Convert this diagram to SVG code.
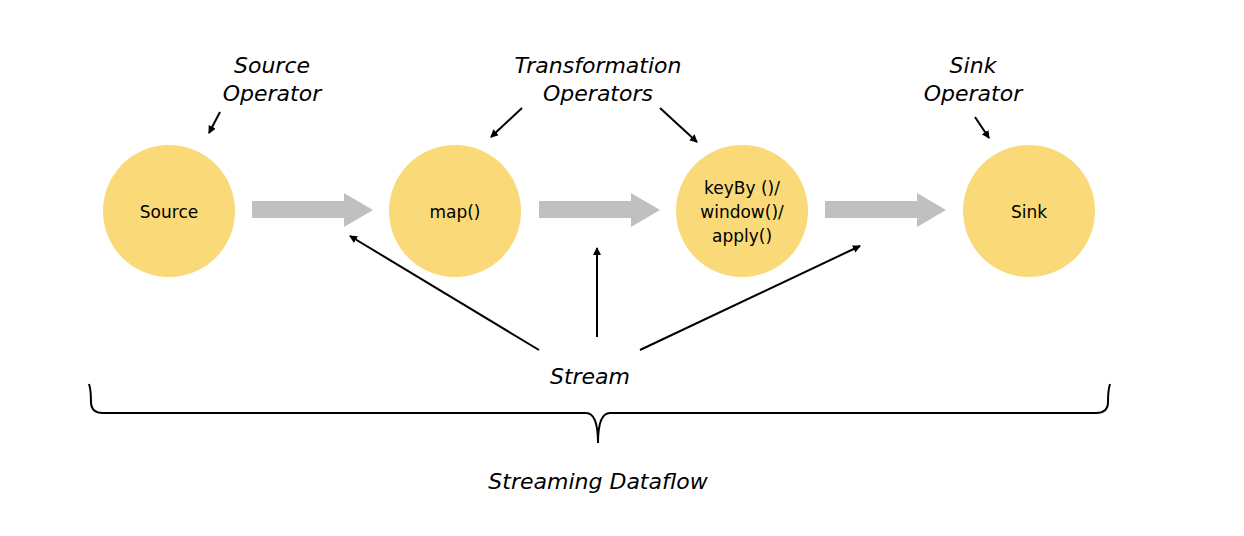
<svg xmlns="http://www.w3.org/2000/svg" width="1244" height="536" viewBox="0 0 1244 536">
<defs>
<style>
.n{fill:#f9d978}
.t{font-family:"DejaVu Sans",sans-serif;font-size:17px;fill:#000;text-anchor:middle}
.i{font-family:"DejaVu Sans",sans-serif;font-size:22px;font-style:italic;fill:#000;text-anchor:middle}
.g{fill:#c0c0c0}
.a{stroke:#000;stroke-width:2;fill:none;marker-end:url(#h)}
</style>
<marker id="h" markerWidth="8" markerHeight="8" refX="7" refY="4" orient="auto" markerUnits="userSpaceOnUse" viewBox="0 0 8 8"><path d="M0,0 L8,4 L0,8 z" fill="#000"/></marker>
</defs>
<rect width="1244" height="536" fill="#fff"/>
<g id="source"><circle class="n" cx="169" cy="211" r="66"/><text class="t" x="169" y="218">Source</text></g>
<g id="map"><circle class="n" cx="455" cy="211" r="66"/><text class="t" x="455" y="218">map()</text></g>
<g id="keyby"><circle class="n" cx="742" cy="211" r="66"/><text class="t" x="742" y="194">keyBy ()/</text><text class="t" x="742" y="218">window()/</text><text class="t" x="742" y="242">apply()</text></g>
<g id="sink"><circle class="n" cx="1029" cy="211" r="66"/><text class="t" x="1029" y="218">Sink</text></g>
<g id="labels">
<text class="i" x="272" y="73">Source</text><text class="i" x="272" y="101">Operator</text>
<text class="i" x="598" y="73">Transformation</text><text class="i" x="598" y="101">Operators</text>
<text class="i" x="973" y="73">Sink</text><text class="i" x="973" y="101">Operator</text>
<text class="i" x="590" y="384">Stream</text>
<text class="i" x="598" y="489">Streaming Dataflow</text>
</g>
<g id="connectors">
<path class="g" d="M252,201 H344 V193 L373,210 L344,227 V218 H252 z"/>
<path class="g" d="M539,201 H631 V193 L660,210 L631,227 V218 H539 z"/>
<path class="g" d="M825,201 H917 V193 L946,210 L917,227 V218 H825 z"/>
<line class="a" x1="220" y1="112" x2="209" y2="133"/>
<line class="a" x1="522" y1="108" x2="491" y2="137"/>
<line class="a" x1="660" y1="108" x2="697" y2="142"/>
<line class="a" x1="975" y1="117" x2="989" y2="138"/>
<line class="a" x1="539" y1="350" x2="350" y2="236"/>
<line class="a" x1="597" y1="337" x2="597" y2="248"/>
<line class="a" x1="640" y1="350" x2="860" y2="246"/>
<path d="M89,384 Q91,390 91,402 Q91,413 103,413 H586 Q598,413 598,443 Q598,413 610,413 H1096 Q1108,413 1108,402 Q1108,390 1110,384" fill="none" stroke="#000" stroke-width="2"/>
</g>
</svg>
